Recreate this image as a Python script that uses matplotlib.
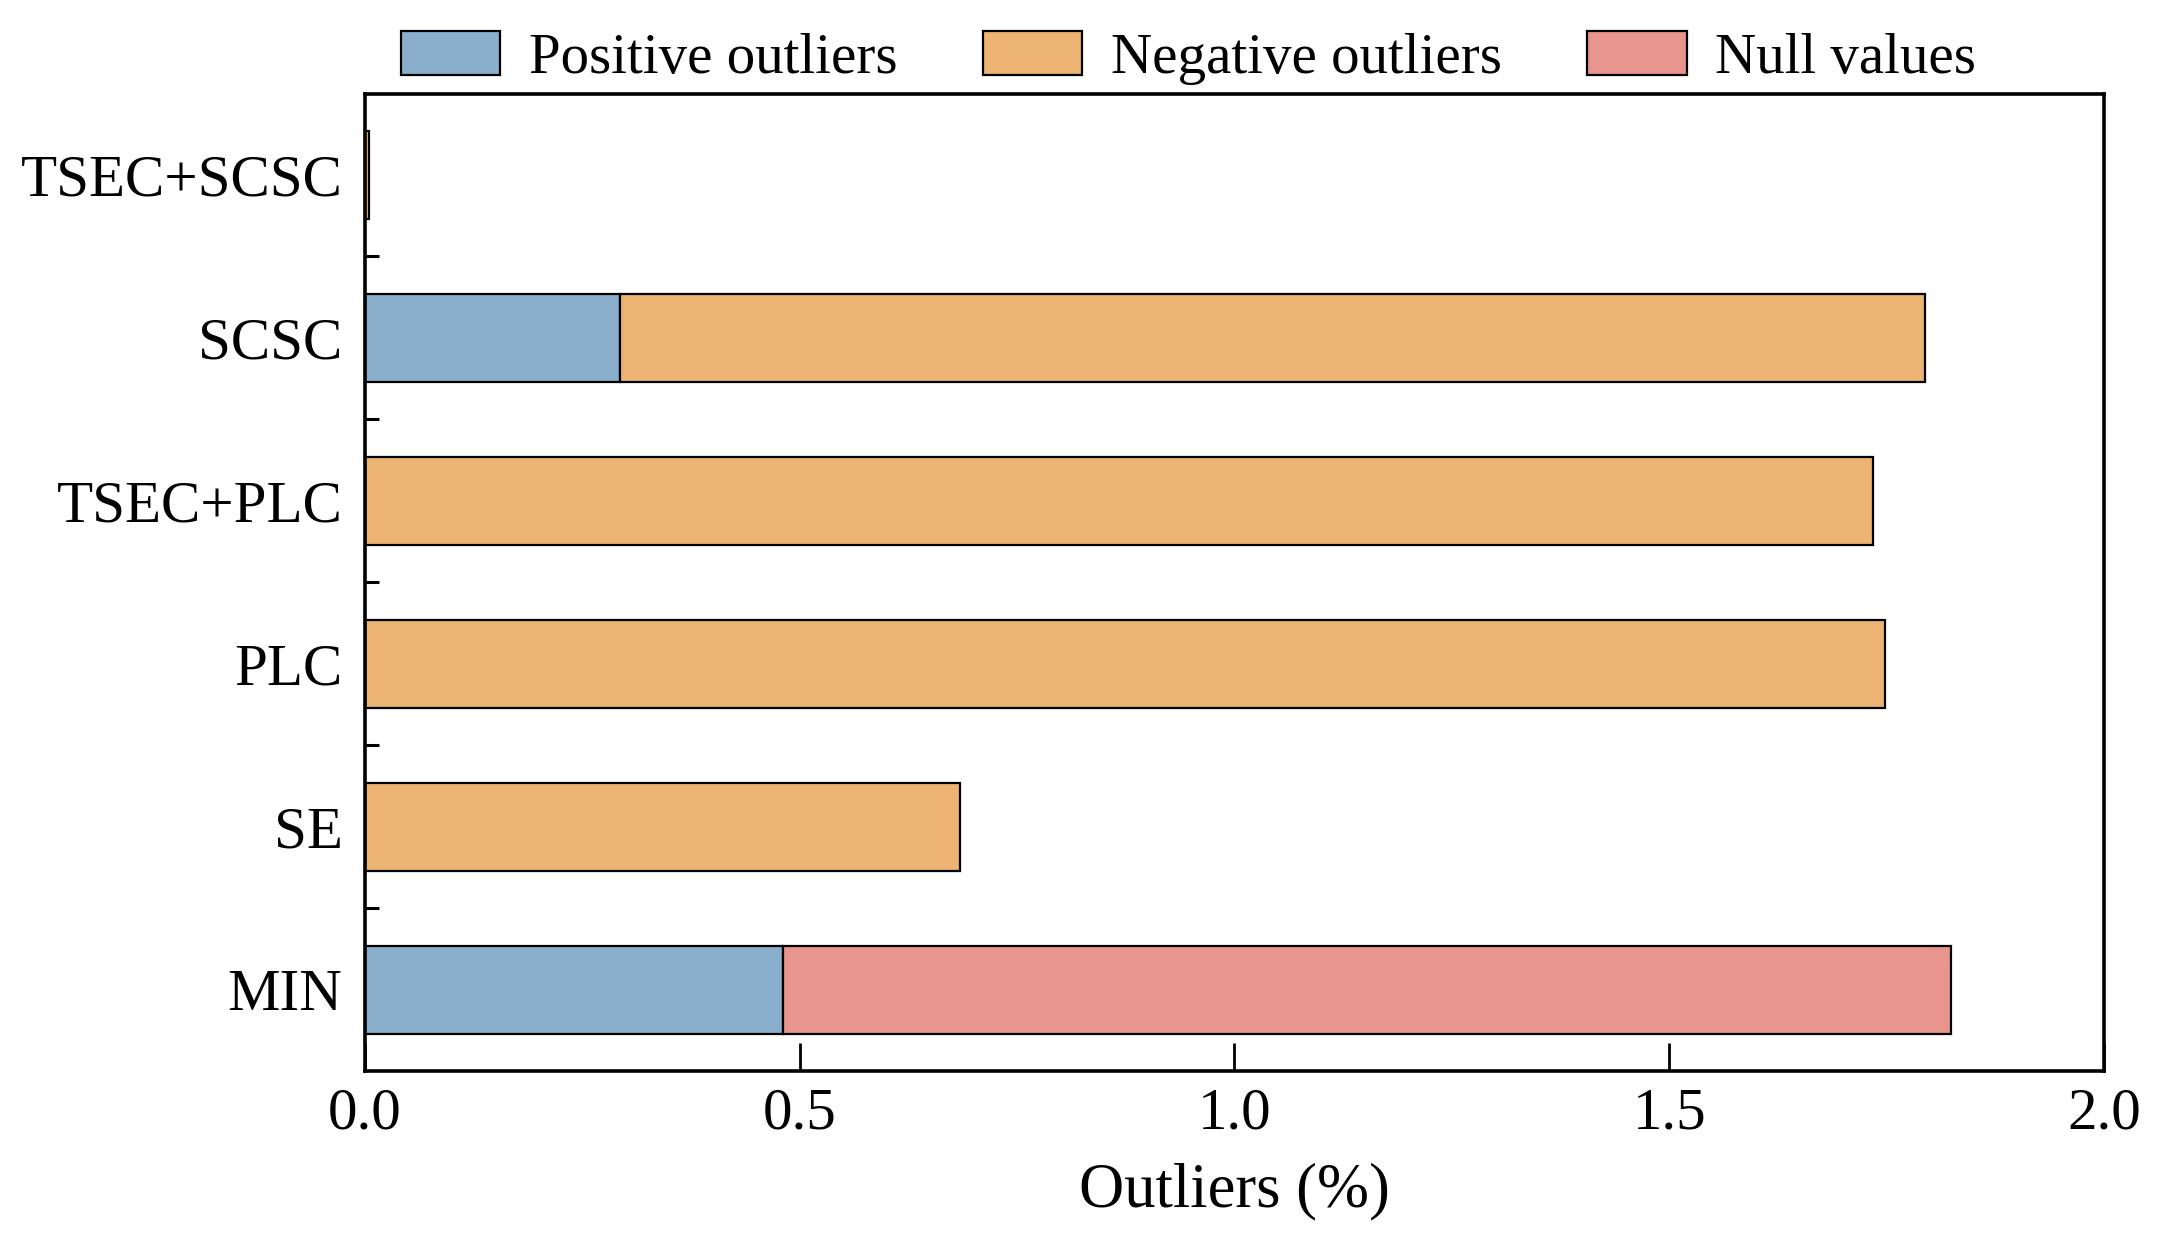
import matplotlib
matplotlib.use("Agg")
import matplotlib.pyplot as plt
import numpy as np

# data (percent)
categories = ["MIN", "SE", "PLC", "TSEC+PLC", "SCSC", "TSEC+SCSC"]
positive = [0.481, 0.0, 0.0, 0.0, 0.293, 0.0]
negative = [0.0, 0.685, 1.748, 1.734, 1.501, 0.005]
null_vals = [1.343, 0.0, 0.0, 0.0, 0.0, 0.0]

c_pos = "#8AAFCD"
c_neg = "#EDB372"
c_null = "#E8958D"

plt.rcParams["font.family"] = ["Liberation Serif", "DejaVu Serif"]
plt.rcParams["font.size"] = 42.5

fig = plt.figure(figsize=(21.58, 12.47), dpi=100)
ax = fig.add_axes([0.169, 0.141, 0.806, 0.784])

y = np.arange(len(categories))
pos = np.array(positive)
neg = np.array(negative)
nul = np.array(null_vals)
h = 0.54
ek = dict(edgecolor="black", linewidth=1.6, height=h)

# only draw the segments that are non-zero
m = pos > 0
ax.barh(y[m], pos[m], color=c_pos, label="Positive outliers", **ek)
m = neg > 0
ax.barh(y[m], neg[m], left=pos[m], color=c_neg, label="Negative outliers", **ek)
m = nul > 0
ax.barh(y[m], nul[m], left=(pos + neg)[m], color=c_null, label="Null values", **ek)

ax.set_xlim(0, 2.0)
ax.set_ylim(-0.5, len(categories) - 0.5)
ax.set_xticks([0.0, 0.5, 1.0, 1.5, 2.0])
ax.set_xticklabels(["0.0", "0.5", "1.0", "1.5", "2.0"])
ax.set_yticks(y)
ax.set_yticklabels(categories)
ax.tick_params(axis="y", which="major", length=0, pad=16)
ax.set_yticks(np.arange(0.5, len(categories) - 0.5, 1.0), minor=True)
ax.tick_params(axis="y", which="minor", direction="in", length=10, width=2.2)
ax.tick_params(axis="x", direction="in", length=20, width=2, pad=12)
for s in ax.spines.values():
    s.set_linewidth(2.6)

ax.set_xlabel("Outliers (%)", fontsize=45, labelpad=15)

ax.legend(loc="lower center", bbox_to_anchor=(0.4735, 0.98), ncol=3, frameon=False,
          fontsize=41, handlelength=1.75, handleheight=0.82, columnspacing=1.5,
          handletextpad=0.5, borderaxespad=0.1)

fig.savefig("out.png", dpi=100)
